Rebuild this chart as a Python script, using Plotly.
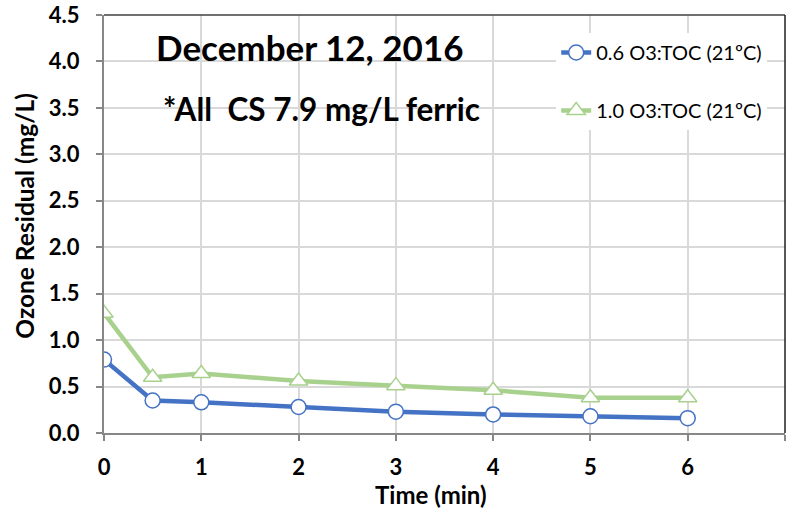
import plotly.graph_objects as go

# Ozone residual decay, December 12, 2016
time_min = [0, 0.5, 1, 2, 3, 4, 5, 6]
residual_06 = [0.79, 0.35, 0.33, 0.28, 0.23, 0.20, 0.18, 0.16]
residual_10 = [1.29, 0.60, 0.64, 0.56, 0.51, 0.46, 0.38, 0.38]
series_names = ["0.6 O3:TOC (21ºC)", "1.0 O3:TOC (21ºC)"]

BLUE = "#4472C4"
GREEN = "#A9D18E"
FONT = "Lato, 'Open Sans', sans-serif"

fig = go.Figure()
fig.add_trace(go.Scatter(
    x=time_min, y=residual_06, name=series_names[0], mode="lines+markers",
    legendgroup="a",
    line=dict(color=BLUE, width=4.5),
    marker=dict(symbol="circle", size=15, color="white",
                line=dict(color=BLUE, width=1.5)),
))
fig.add_trace(go.Scatter(
    x=time_min, y=residual_10, name=series_names[1], mode="lines+markers",
    legendgroup="b",
    line=dict(color=GREEN, width=4.5),
    marker=dict(symbol="triangle-up", size=16, color="white",
                line=dict(color=GREEN, width=1.5)),
))

fig.update_layout(
    width=788, height=509,
    margin=dict(l=104, r=3, t=15, b=76),
    paper_bgcolor="white", plot_bgcolor="white",
    font=dict(family=FONT, color="black"),
    showlegend=True,
    legend=dict(
        x=0.664, y=0.957, xanchor="left", yanchor="top",
        font=dict(size=20, family=FONT, color="black"),
        bgcolor="rgba(255,255,255,1)",
        tracegroupgap=29,
        itemwidth=30,
    ),
    annotations=[
        dict(text="<b>December 12, 2016</b>", x=0.303, y=0.923,
             xref="paper", yref="paper", xanchor="center", yanchor="middle",
             showarrow=False,
             font=dict(size=35, family=FONT, color="black")),
        dict(text="<b>*All  CS 7.9 mg/L ferric</b>", x=0.32, y=0.775,
             xref="paper", yref="paper", xanchor="center", yanchor="middle",
             showarrow=False,
             font=dict(size=31.5, family=FONT, color="black")),
        # axis titles
        dict(text="<b>Time (min)</b>", x=0.4795, y=-0.146,
             xref="paper", yref="paper", xanchor="center", yanchor="middle",
             showarrow=False,
             font=dict(size=24, family=FONT, color="black")),
        dict(text="<b>Ozone Residual (mg/L)</b>", x=-0.116, y=0.52,
             xref="paper", yref="paper", xanchor="center", yanchor="middle",
             textangle=-90, showarrow=False,
             font=dict(size=24.5, family=FONT, color="black")),
    ],
)

fig.update_xaxes(
    range=[0, 7], tickmode="linear", tick0=0, dtick=1,
    showgrid=True, gridcolor="#D9D9D9", gridwidth=1.5,
    showline=True, linecolor="#878787", linewidth=2, mirror=False,
    ticks="outside", ticklen=6, tickcolor="#878787", tickwidth=1.5,
    ticklabelstandoff=8,
    tickfont=dict(size=22, family=FONT, color="black", weight="bold"),
    zeroline=False, automargin=False,
)
fig.update_yaxes(
    range=[0, 4.5], tickmode="linear", tick0=0, dtick=0.5, tickformat=".1f",
    showgrid=True, gridcolor="#D9D9D9", gridwidth=1.5,
    showline=True, linecolor="#878787", linewidth=2,
    ticks="outside", ticklen=6, tickcolor="#878787", tickwidth=1.5,
    ticklabelstandoff=12,
    tickfont=dict(size=22, family=FONT, color="black", weight="bold"),
    zeroline=False, automargin=False,
)

# Top and right border of the plot area
fig.add_shape(type="line", xref="paper", yref="paper", x0=0, x1=1, y0=1, y1=1,
              line=dict(color="#404040", width=1.5))
fig.add_shape(type="line", xref="paper", yref="paper", x0=1, x1=1, y0=0, y1=1,
              line=dict(color="#202020", width=1.5))

fig.write_html("out.html")
